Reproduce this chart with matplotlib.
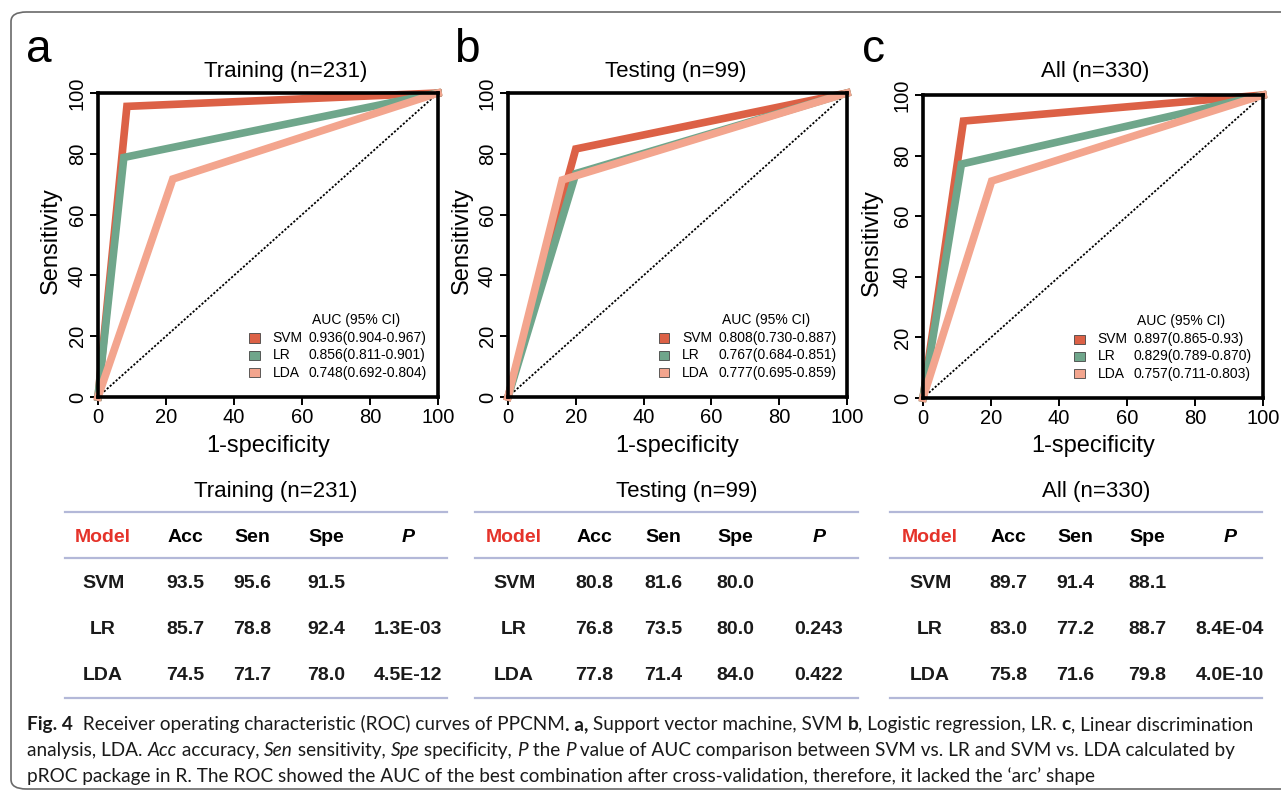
import matplotlib.pyplot as plt
from matplotlib.patches import Rectangle, FancyBboxPatch
from matplotlib.lines import Line2D

plt.rcParams['font.family'] = ['Liberation Sans', 'DejaVu Sans']

# data
groups = ['Training (n=231)', 'Testing (n=99)', 'All (n=330)']
letters = ['a', 'b', 'c']
models = ['SVM', 'LR', 'LDA']
acc = [[93.5, 85.7, 74.5], [80.8, 76.8, 77.8], [89.7, 83.0, 75.8]]
sen = [[95.6, 78.8, 71.7], [81.6, 73.5, 71.4], [91.4, 77.2, 71.6]]
spe = [[91.5, 92.4, 78.0], [80.0, 80.0, 84.0], [88.1, 88.7, 79.8]]
p_values = [['', '1.3E-03', '4.5E-12'], ['', '0.243', '0.422'], ['', '8.4E-04', '4.0E-10']]
auc_ci = [['0.936(0.904-0.967)', '0.856(0.811-0.901)', '0.748(0.692-0.804)'],
          ['0.808(0.730-0.887)', '0.767(0.684-0.851)', '0.777(0.695-0.859)'],
          ['0.897(0.865-0.93)', '0.829(0.789-0.870)', '0.757(0.711-0.803)']]
colors = ['#dc6146', '#6fa68b', '#f3a58e']

W, H = 1281, 793
fig = plt.figure(figsize=(W / 100, H / 100), dpi=100)


def fx(px):
    return px / W


def fy(py):
    return 1 - py / H


# rounded frame around the whole figure
fig.add_artist(FancyBboxPatch((fx(11), fy(789)), fx(1320) - fx(11), fy(12) - fy(789),
                              boxstyle='round,pad=0,rounding_size=0.012',
                              transform=fig.transFigure, fill=False,
                              edgecolor='#6a6a6a', lw=1.2))

# pixel boxes (left, top, right, bottom) of the three ROC panels
axes_px = [(98, 93, 438, 397), (508, 93, 847, 397), (923, 95, 1263, 398)]
letter_x = [39, 467, 873]
title_x = [286, 676, 1095]
ylabel_x = [51, 462, 872]

for i in range(3):
    l, t, r, b = axes_px[i]
    ax = fig.add_axes([fx(l), fy(b), fx(r) - fx(l), fy(t) - fy(b)])
    ax.plot([0, 100], [0, 100], color='black', ls=(0, (1.2, 1.0)), lw=1.3)
    for j in range(3):
        fpr = [0, 100 - spe[i][j], 100]
        tpr = [0, sen[i][j], 100]
        ax.plot(fpr, tpr, color=colors[j], lw=5.5, solid_joinstyle='miter', clip_on=False)
    ax.set_xlim(0, 100)
    ax.set_ylim(0, 100)
    ax.set_xticks(range(0, 101, 20))
    ax.set_yticks(range(0, 101, 20))
    for s in ax.spines.values():
        s.set_linewidth(2.6)
    ax.tick_params(direction='out', length=6, width=1.4, labelsize=14.5, pad=2)
    ax.tick_params(axis='y', labelrotation=90)
    for lbl in ax.get_yticklabels():
        lbl.set_va('center')

    # legend block
    ax.text(0.76, 0.253, 'AUC (95% CI)', transform=ax.transAxes, fontsize=10,
            ha='center', va='center')
    for j in range(3):
        yy = [0.194, 0.137, 0.08][j]
        ax.add_patch(Rectangle((0.445, yy - 0.015), 0.03, 0.03, transform=ax.transAxes,
                               facecolor=colors[j], edgecolor='#444444', lw=0.6))
        ax.text(0.513, yy, models[j], transform=ax.transAxes, fontsize=10, va='center')
        ax.text(0.62, yy, auc_ci[i][j], transform=ax.transAxes, fontsize=10, va='center')

    fig.text(fx(letter_x[i]), fy(62), letters[i], fontsize=33, ha='center', va='baseline')
    fig.text(fx(title_x[i]), fy(72), groups[i], fontsize=16, ha='center', va='center')
    fig.text(fx(ylabel_x[i]), fy((t + b) / 2 - 4), 'Sensitivity', fontsize=17,
             rotation=90, ha='center', va='center')
    fig.text(fx((l + r) / 2), fy(446), '1-specificity', fontsize=17, ha='center', va='center')

# tables
line_x = [(65, 447), (475, 858), (890, 1262)]
col_x = [[103, 185, 252, 326, 408], [514, 594, 663, 735, 819], [930, 1008, 1075, 1147, 1230]]
header = ['Model', 'Acc', 'Sen', 'Spe', 'P']
row_y = [583, 629, 675]
line_c = '#b3b8d8'

for i in range(3):
    x0, x1 = line_x[i]
    for yl in (512, 558, 698):
        fig.add_artist(Line2D([fx(x0), fx(x1)], [fy(yl), fy(yl)], color=line_c, lw=1.6,
                              transform=fig.transFigure))
    fig.text(fx((x0 + x1) / 2 + 20), fy(492), groups[i], fontsize=16, ha='center', va='center')
    for k, h in enumerate(header):
        fig.text(fx(col_x[i][k]), fy(537), h, fontsize=14, weight='bold', ha='center', va='center',
                 color='#e5332a' if k == 0 else 'black', style='italic' if h == 'P' else 'normal')
    for j in range(3):
        vals = [models[j], f'{acc[i][j]:.1f}', f'{sen[i][j]:.1f}', f'{spe[i][j]:.1f}', p_values[i][j]]
        for k, v in enumerate(vals):
            fig.text(fx(col_x[i][k]), fy(row_y[j]), v, fontsize=14, weight='bold',
                     ha='center', va='center', color='#1a1a1a')

# caption with mixed styles
cap_font = ['Lato', 'DejaVu Sans']
cap_lines = [
    [('Fig. 4', 'bold', 'normal'), ('  Receiver operating characteristic (ROC) curves of PPCNM', 'normal', 'normal'),
     ('. a,', 'bold', 'normal'), (' Support vector machine, SVM ', 'normal', 'normal'), ('b', 'bold', 'normal'),
     (', Logistic regression, LR. ', 'normal', 'normal'), ('c', 'bold', 'normal'),
     (', Linear discrimination', 'normal', 'normal')],
    [('analysis, LDA. ', 'normal', 'normal'), ('Acc', 'normal', 'italic'), (' accuracy, ', 'normal', 'normal'),
     ('Sen', 'normal', 'italic'), (' sensitivity, ', 'normal', 'normal'), ('Spe', 'normal', 'italic'),
     (' specificity, ', 'normal', 'normal'), ('P', 'normal', 'italic'), (' the ', 'normal', 'normal'),
     ('P', 'normal', 'italic'),
     (' value of AUC comparison between SVM vs. LR and SVM vs. LDA calculated by', 'normal', 'normal')],
    [('pROC package in R. The ROC showed the AUC of the best combination after cross-validation, '
      'therefore, it lacked the \u2018arc\u2019 shape', 'normal', 'normal')],
]
renderer = fig.canvas.get_renderer()
for n, segs in enumerate(cap_lines):
    x = 27
    y = 730 + 26 * n
    for text, weight, style in segs:
        t = fig.text(fx(x), fy(y), text, fontsize=13.7, family=cap_font, weight=weight,
                     style=style, ha='left', va='baseline', color='#1a1a1a')
        x += t.get_window_extent(renderer).width

fig.savefig('out.png', dpi=100)
